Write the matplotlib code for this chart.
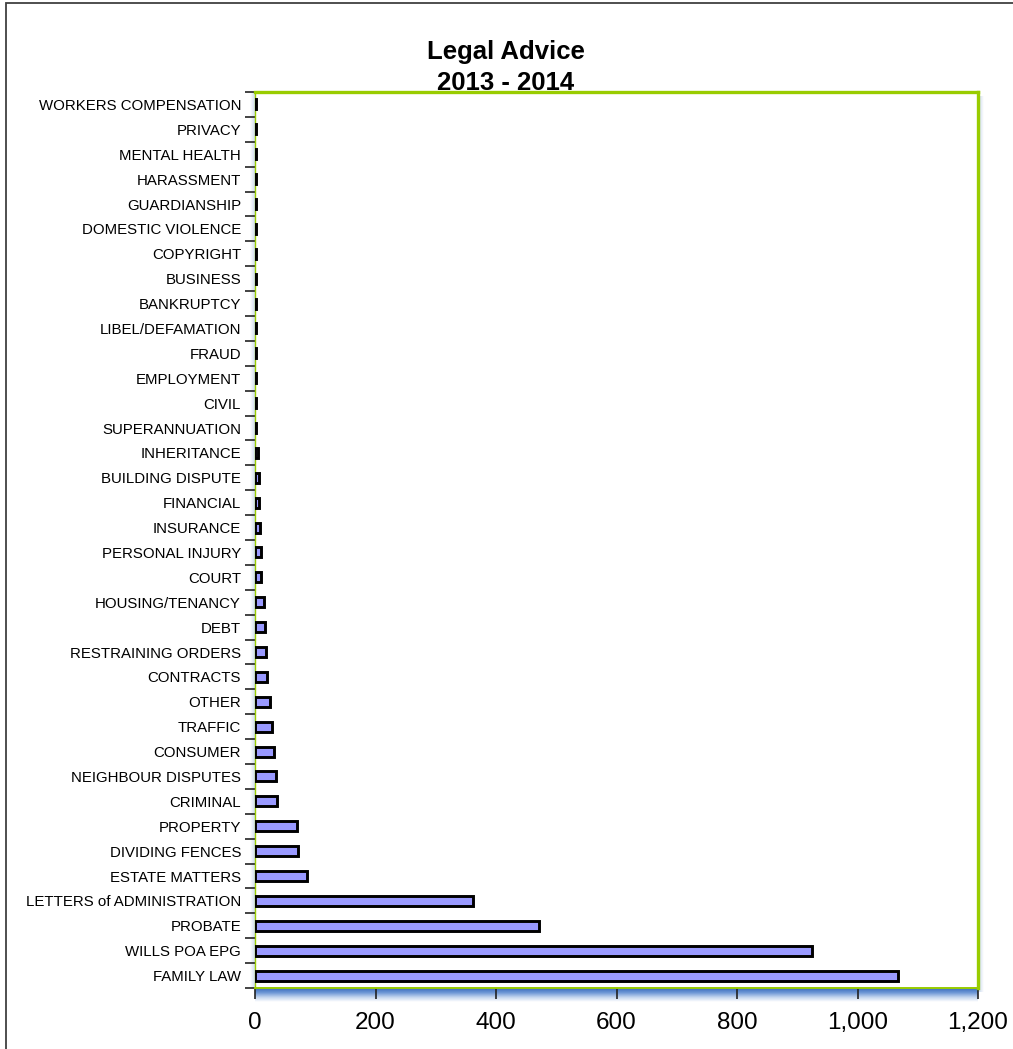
import numpy as np
import matplotlib
matplotlib.use('Agg')
from matplotlib import pyplot as plt
from matplotlib.patches import Rectangle
from matplotlib.colors import LinearSegmentedColormap

# 咨询类别(从下到上)
categories = ['FAMILY LAW', 'WILLS POA EPG', 'PROBATE', 'LETTERS of ADMINISTRATION',
              'ESTATE MATTERS', 'DIVIDING FENCES', 'PROPERTY', 'CRIMINAL',
              'NEIGHBOUR DISPUTES', 'CONSUMER', 'TRAFFIC', 'OTHER', 'CONTRACTS',
              'RESTRAINING ORDERS', 'DEBT', 'HOUSING/TENANCY', 'COURT',
              'PERSONAL INJURY', 'INSURANCE', 'FINANCIAL', 'BUILDING DISPUTE',
              'INHERITANCE', 'SUPERANNUATION', 'CIVIL', 'EMPLOYMENT', 'FRAUD',
              'LIBEL/DEFAMATION', 'BANKRUPTCY', 'BUSINESS', 'COPYRIGHT',
              'DOMESTIC VIOLENCE', 'GUARDIANSHIP', 'HARASSMENT', 'MENTAL HEALTH',
              'PRIVACY', 'WORKERS COMPENSATION']
counts = [1067, 925, 472, 361, 86, 71, 70, 36, 35, 31, 28, 25, 20, 18, 17, 15,
          10, 10, 8, 6, 6, 5, 2, 2, 2, 2, 2, 2, 2, 2, 2, 2, 2, 2, 2, 2]
xticks = [0, 200, 400, 600, 800, 1000, 1200]
xtick_labels = ['0', '200', '400', '600', '800', '1,000', '1,200']

plt.rcParams['font.family'] = ['Liberation Sans', 'DejaVu Sans']

W, H = 1013, 1049
fig = plt.figure(figsize=(W / 100, H / 100), dpi=100)
fig.patch.set_facecolor('white')

# 外边框
fig.patches.append(Rectangle((6 / W, -0.1), 1.2, 1 - 3 / H + 0.1, transform=fig.transFigure,
                             fill=False, edgecolor='#404040', linewidth=1.3))

left, right, top, bottom = 255 / W, 978 / W, 1 - 92 / H, 1 - 988 / H
ax = fig.add_axes([left, bottom, right - left, top - bottom])

# 底部和两侧的阴影
blue = LinearSegmentedColormap.from_list('shade', ['#3a6cbc', '#6f98d6', '#c4d6ef', '#ffffff'])
sh = fig.add_axes([left, bottom - 14 / H, right - left, 14 / H], zorder=0)
sh.imshow(np.linspace(0, 1, 50).reshape(-1, 1), aspect='auto', cmap=blue,
          extent=[0, 1, 0, 1])
sh.axis('off')
side = LinearSegmentedColormap.from_list('side', ['#ffffff', '#cfdcef'])
ls = fig.add_axes([left - 5 / W, bottom, 5 / W, top - bottom], zorder=0)
ls.imshow(np.linspace(0, 1, 20).reshape(1, -1), aspect='auto', cmap=side, extent=[0, 1, 0, 1])
ls.axis('off')
rs = fig.add_axes([right + 1 / W, bottom - 4 / H, 5 / W, top - bottom], zorder=0)
rs.imshow(np.linspace(1, 0, 20).reshape(1, -1), aspect='auto', cmap=side, extent=[0, 1, 0, 1])
rs.axis('off')
ax.set_zorder(2)

y = np.arange(len(categories))
ax.barh(y, counts, height=0.4, color='#9999ff', edgecolor='black', linewidth=2.1, zorder=3)

ax.set_xlim(0, 1200)
ax.set_ylim(-0.5, len(categories) - 0.5)

# 坐标轴样式
for s in ['top', 'right']:
    ax.spines[s].set_color('#99cc00')
    ax.spines[s].set_linewidth(2.4)
ax.spines['left'].set_color('#99cc00')
ax.spines['left'].set_linewidth(1.0)
ax.spines['bottom'].set_color('#99cc00')
ax.spines['bottom'].set_linewidth(1.4)

ax.set_xticks(xticks)
ax.set_xticklabels(xtick_labels, fontsize=17.5)
ax.tick_params(axis='x', direction='out', length=8, width=1.2, color='#222222', pad=9)

ax.set_yticks(np.arange(-0.5, len(categories), 1.0))
ax.set_yticklabels([])
ax.set_yticks(y, minor=True)
ax.set_yticklabels(categories, minor=True, fontsize=10.8)
ax.tick_params(axis='y', which='major', direction='out', length=7, width=1.2, color='#222222')
ax.tick_params(axis='y', which='minor', length=0, pad=10)

fig.text(506 / W, 1 - 52 / H, 'Legal Advice', ha='center', va='center',
         fontsize=18.5, fontweight='bold')
fig.text(506 / W, 1 - 83 / H, '2013 - 2014', ha='center', va='center',
         fontsize=18.5, fontweight='bold', zorder=5)

plt.savefig('out.png', dpi=100)
